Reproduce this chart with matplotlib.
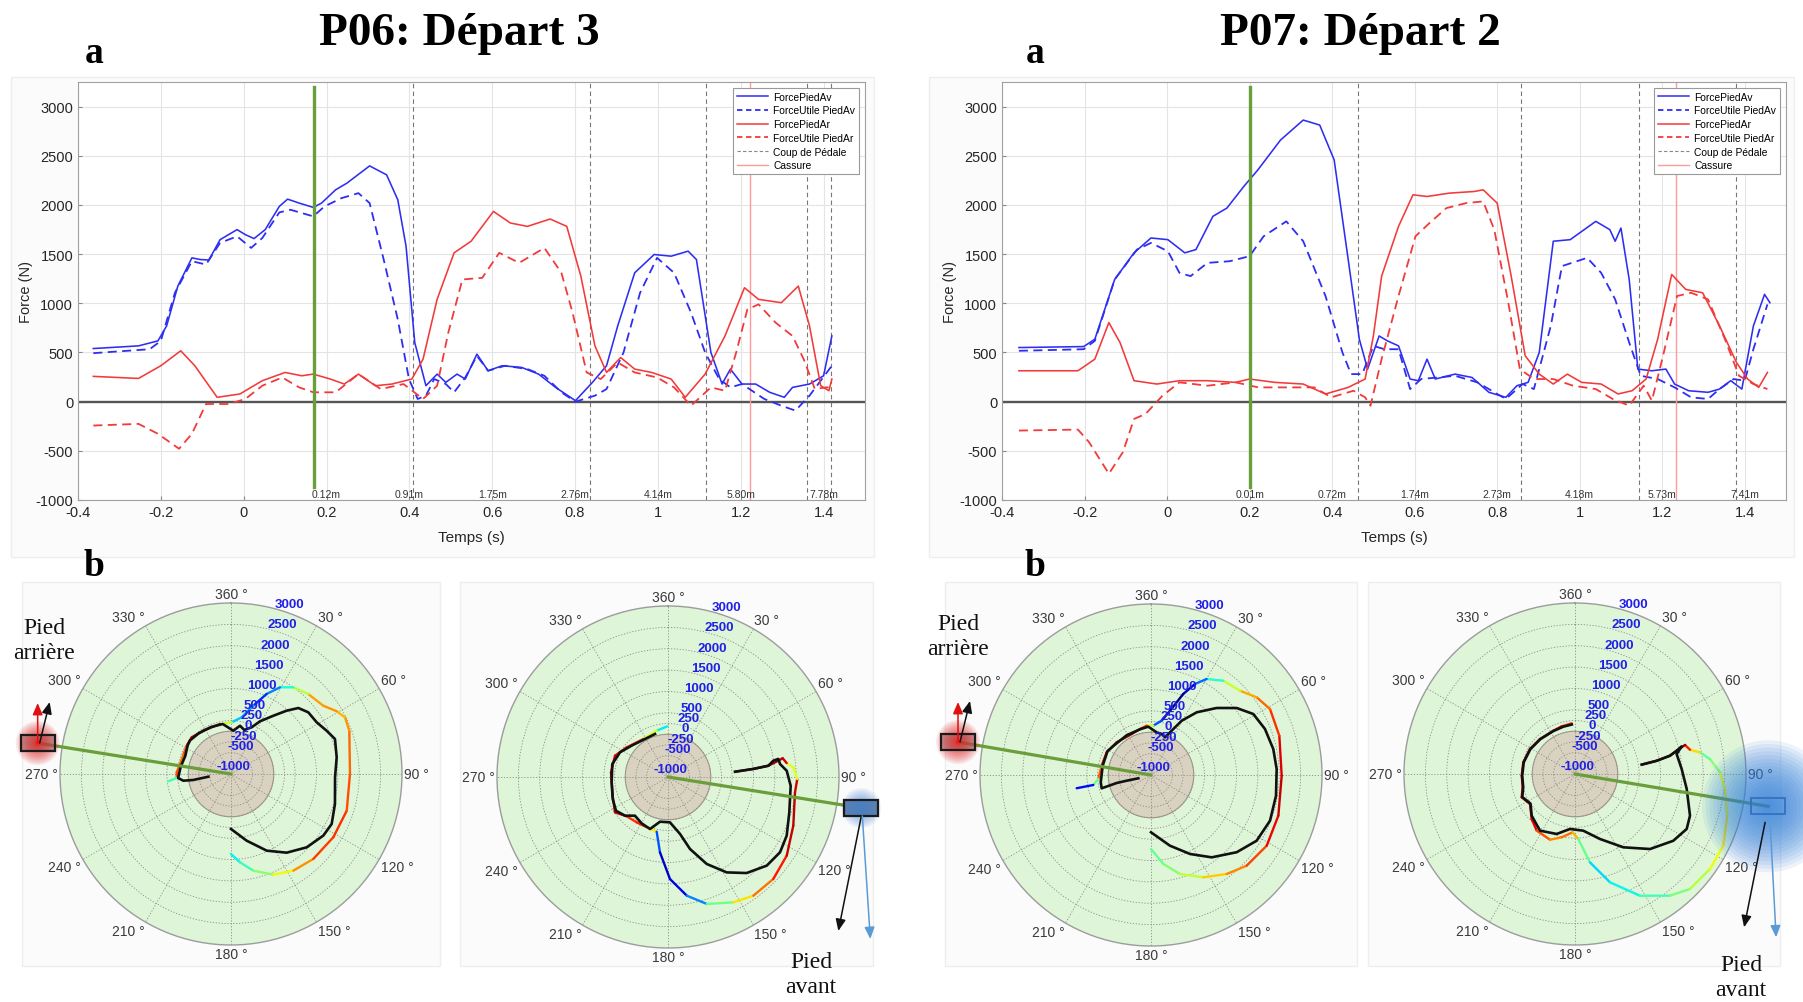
import numpy as np
import matplotlib
matplotlib.use("Agg")
import matplotlib.pyplot as plt
from matplotlib.collections import LineCollection
from matplotlib.patches import Rectangle, Circle
from matplotlib.lines import Line2D

plt.rcParams['font.family'] = ['Liberation Sans', 'DejaVu Sans']
plt.rcParams['axes.unicode_minus'] = False

W, H = 1803, 1003

# ======================= DATA =======================
titles = ["P06: Départ 3", "P07: Départ 2"]
series_names = ["ForcePiedAv", "ForceUtile PiedAv", "ForcePiedAr", "ForceUtile PiedAr",
                "Coup de Pédale", "Cassure"]
x_ticks = [-0.4, -0.2, 0, 0.2, 0.4, 0.6, 0.8, 1, 1.2, 1.4]
x_tick_labels = ["-0.4", "-0.2", "0", "0.2", "0.4", "0.6", "0.8", "1", "1.2", "1.4"]
y_ticks = [-1000, -500, 0, 500, 1000, 1500, 2000, 2500, 3000]

# ---- P06 ----
p06_av_t = [-0.363, -0.254, -0.207, -0.186, -0.159, -0.125, -0.105, -0.084, -0.057, -0.016, 0.004, 0.025,
            0.052, 0.086, 0.106, 0.134, 0.168, 0.188, 0.222, 0.249, 0.304, 0.345, 0.372, 0.392, 0.413,
            0.440, 0.467, 0.488, 0.515, 0.535, 0.563, 0.590, 0.624, 0.671, 0.712, 0.753, 0.801, 0.842,
            0.876, 0.903, 0.944, 0.991, 1.032, 1.073, 1.093, 1.128, 1.155, 1.175, 1.203, 1.236, 1.270,
            1.305, 1.325, 1.366, 1.400, 1.420]
p06_av_f = [540, 567, 618, 770, 1175, 1462, 1445, 1440, 1647, 1749, 1698, 1658, 1749, 1985, 2059, 2019,
            1975, 2019, 2154, 2221, 2397, 2306, 2053, 1580, 601, 162, 280, 196, 280, 230, 483, 314, 365,
            348, 280, 145, 10, 196, 365, 770, 1310, 1496, 1479, 1530, 1445, 500, 179, 331, 179, 179, 95,
            44, 145, 179, 263, 668]
p06_avu_t = [-0.363, -0.227, -0.200, -0.166, -0.125, -0.091, -0.057, -0.016, 0.018, 0.045, 0.086, 0.113,
             0.140, 0.168, 0.195, 0.236, 0.277, 0.304, 0.338, 0.372, 0.399, 0.420, 0.440, 0.460, 0.488,
             0.508, 0.535, 0.563, 0.590, 0.631, 0.685, 0.726, 0.767, 0.801, 0.848, 0.876, 0.917, 0.957,
             0.998, 1.039, 1.080, 1.114, 1.148, 1.175, 1.203, 1.257, 1.298, 1.332, 1.366, 1.420]
p06_avu_f = [493, 533, 618, 1107, 1428, 1394, 1614, 1681, 1563, 1664, 1924, 1951, 1918, 1884, 1985, 2069,
             2120, 2019, 1445, 837, 230, 27, 61, 230, 179, 95, 246, 466, 314, 365, 331, 263, 95, 0, 61,
             128, 500, 1107, 1462, 1310, 905, 500, 230, 145, 179, 27, -41, -91, 61, 365]
p06_ar_t = [-0.363, -0.254, -0.200, -0.152, -0.118, -0.064, -0.009, 0.045, 0.100, 0.140, 0.168, 0.209,
            0.243, 0.277, 0.318, 0.358, 0.406, 0.433, 0.467, 0.508, 0.549, 0.603, 0.644, 0.685, 0.740,
            0.780, 0.814, 0.848, 0.876, 0.910, 0.944, 0.985, 1.032, 1.066, 1.114, 1.162, 1.209, 1.243,
            1.298, 1.339, 1.366, 1.393, 1.413, 1.420]
p06_ar_f = [257, 236, 365, 517, 365, 44, 78, 213, 297, 263, 280, 230, 179, 280, 162, 179, 230, 432, 1040,
            1513, 1631, 1934, 1816, 1782, 1857, 1782, 1276, 567, 297, 449, 331, 297, 230, 44, 280, 668,
            1158, 1040, 1006, 1175, 770, 162, 111, 230]
p06_aru_t = [-0.363, -0.254, -0.207, -0.156, -0.125, -0.091, -0.036, 0.004, 0.045, 0.093, 0.134, 0.168,
             0.222, 0.277, 0.331, 0.386, 0.433, 0.467, 0.494, 0.528, 0.576, 0.617, 0.665, 0.726, 0.767,
             0.794, 0.828, 0.862, 0.903, 0.944, 0.998, 1.039, 1.080, 1.128, 1.162, 1.189, 1.216, 1.243,
             1.284, 1.325, 1.352, 1.379, 1.406, 1.420]
p06_aru_f = [-243, -226, -327, -479, -327, -24, -24, 27, 162, 246, 145, 95, 95, 280, 128, 179, 27, 162,
             702, 1242, 1259, 1513, 1411, 1563, 1310, 905, 297, 230, 398, 297, 246, 145, -41, 145, 111,
             500, 939, 989, 804, 668, 432, 128, 145, 145]
p06_stroke_t = [0.409, 0.835, 1.117, 1.360, 1.418]
p06_break_t = [1.223]
p06_start_t = [0.170]
p06_dist = ["0.12m", "0.91m", "1.75m", "2.76m", "4.14m", "5.80m", "7.78m"]

# ---- P07 ----
p07_av_t = [-0.359, -0.202, -0.175, -0.127, -0.080, -0.039, 0.002, 0.043, 0.070, 0.111, 0.145, 0.186,
            0.220, 0.275, 0.330, 0.370, 0.405, 0.439, 0.466, 0.486, 0.514, 0.534, 0.561, 0.589, 0.609,
            0.630, 0.650, 0.698, 0.739, 0.780, 0.821, 0.848, 0.875, 0.902, 0.936, 0.977, 1.039, 1.073,
            1.086, 1.100, 1.120, 1.141, 1.175, 1.209, 1.230, 1.264, 1.311, 1.339, 1.366, 1.393, 1.421,
            1.448, 1.461]
p07_av_f = [550, 560, 635, 1242, 1513, 1664, 1647, 1513, 1546, 1884, 1968, 2188, 2356, 2660, 2863, 2812,
            2458, 1445, 635, 331, 668, 618, 567, 230, 213, 432, 230, 280, 246, 95, 44, 162, 196, 500,
            1631, 1647, 1833, 1749, 1631, 1765, 1242, 331, 314, 331, 179, 111, 95, 128, 213, 128, 770,
            1091, 1006]
p07_avu_t = [-0.359, -0.202, -0.175, -0.127, -0.073, -0.039, 0.002, 0.030, 0.057, 0.098, 0.152, 0.200,
             0.234, 0.289, 0.330, 0.384, 0.425, 0.446, 0.473, 0.500, 0.527, 0.561, 0.589, 0.616, 0.698,
             0.752, 0.821, 0.862, 0.889, 0.930, 0.957, 1.018, 1.052, 1.086, 1.120, 1.148, 1.189, 1.230,
             1.270, 1.311, 1.339, 1.373, 1.400, 1.421, 1.455]
p07_avu_f = [517, 533, 618, 1242, 1546, 1614, 1529, 1310, 1276, 1411, 1428, 1479, 1681, 1833, 1631, 1074,
             500, 280, 280, 567, 533, 533, 128, 230, 263, 196, 27, 179, 128, 770, 1378, 1462, 1310, 1040,
             601, 263, 230, 145, 44, 27, 128, 230, 213, 533, 989]
p07_ar_t = [-0.359, -0.216, -0.175, -0.141, -0.114, -0.080, -0.025, 0.030, 0.098, 0.166, 0.200, 0.261,
            0.330, 0.384, 0.439, 0.480, 0.500, 0.520, 0.561, 0.596, 0.630, 0.684, 0.745, 0.766, 0.800,
            0.834, 0.868, 0.902, 0.936, 0.970, 1.005, 1.052, 1.093, 1.127, 1.161, 1.189, 1.223, 1.257,
            1.298, 1.339, 1.380, 1.407, 1.434, 1.455]
p07_ar_f = [314, 314, 432, 804, 601, 213, 179, 213, 213, 196, 230, 196, 179, 78, 145, 230, 668, 1276, 1782,
            2103, 2086, 2120, 2137, 2154, 2019, 1276, 466, 280, 179, 280, 196, 179, 78, 111, 230, 635,
            1293, 1141, 1107, 770, 398, 230, 145, 297]
p07_aru_t = [-0.359, -0.216, -0.189, -0.141, -0.107, -0.080, -0.052, -0.011, 0.030, 0.098, 0.166, 0.221,
             0.289, 0.357, 0.398, 0.452, 0.480, 0.493, 0.520, 0.561, 0.602, 0.636, 0.677, 0.725, 0.766,
             0.793, 0.827, 0.855, 0.889, 0.936, 0.984, 1.039, 1.080, 1.120, 1.155, 1.175, 1.202, 1.236,
             1.270, 1.311, 1.352, 1.386, 1.421, 1.455]
p07_aru_f = [-294, -284, -412, -733, -513, -176, -125, 61, 196, 162, 196, 145, 145, 145, 44, 111, 44, -41,
             432, 1074, 1681, 1816, 1968, 2019, 2036, 1749, 1006, 331, 230, 230, 162, 128, 27, -41, 162,
             10, 466, 1074, 1107, 1040, 635, 263, 179, 128]
p07_stroke_t = [0.463, 0.857, 1.144, 1.380]
p07_break_t = [1.234]
p07_start_t = [0.200]
p07_dist = ["0.01m", "0.72m", "1.74m", "2.73m", "4.18m", "5.73m", "7.41m"]

dist_label_t = [0.2, 0.4, 0.6, 0.8, 1.0, 1.2, 1.4]
start_line_range = [-870, 3200]

# ---- polar plots (crank angle in degrees, force in N) ----
polar_ring_values = [-500, -250, 0, 250, 500, 1000, 1500, 2000, 2500]
polar_label_values = [-1000, -500, -250, 0, 250, 500, 1000, 1500, 2000, 2500, 3000]
angle_ticks = [0, 30, 60, 90, 120, 150, 180, 210, 240, 270, 300, 330]
angle_labels = ["360 °", "30 °", "60 °", "90 °", "120 °", "150 °", "180 °", "210 °", "240 °",
                "270 °", "300 °", "330 °"]

# P06 rear foot
pol1_tot_th = [180, 174.2, 167, 157.2, 147.2, 135.9, 121.7, 107.6, 90, 69.9, 63.6, 59.3, 53.5, 44, 35.7,
               29.5, 24, 18.1, 10.7, 0.8, 347.6, 327.4, 313, 302.6, 291.7, 281, 271.8, 265.8, 263.4]
pol1_tot_f = [871, 1077, 1320, 1554, 1690, 1767, 1814, 1840, 1783, 1947, 1978, 1875, 1685, 1601, 1498,
              1330, 1049, 682, 350, 209, 198, 202, 258, 230, 200, 216, 270, 275, 476]
pol1_use_th = [180, 166.8, 155, 144.7, 134.1, 123.7, 116.4, 106.1, 91.8, 81, 71.4, 65.7, 58.9, 51.4, 45.6,
               41.3, 36, 28.8, 23.9, 16.8, 10.6, 3, 350.6, 336.8, 321.6, 309.3, 303.5, 291.7, 277.9,
               265.7, 262, 261, 263.2]
pol1_use_f = [286, 602, 979, 1255, 1465, 1596, 1629, 1531, 1435, 1503, 1566, 1456, 1341, 1313, 1206, 972,
              684, 406, 195, 76, 148, 15, 185, 195, 215, 240, 215, 150, 190, 240, 127, -107, -467]

# P06 front foot
pol2_tot_th = [359.2, 346.3, 327, 305.7, 291.9, 274.7, 251.3, 236.3, 226.4, 214.6, 202.9, 191.7, 186.1,
               178.9, 171, 163, 152.5, 144.3, 134.1, 123.5, 111.2, 96.9, 90.9, 85.6, 83.3, 80.7, 81.6,
               83.6, 84.6, 85.5]
pol2_tot_f = [186, 116, 60, 190, 336, 338, 366, 490, 333, 289, 277, 305, 771, 1386, 1810, 2106, 2305,
              2420, 2429, 2331, 2144, 1992, 2025, 1940, 1795, 1718, 1608, 1362, 1004, 572]
pol2_use_th = [85.5, 84.6, 83.6, 81.2, 80.7, 83.4, 87, 94.1, 106.2, 116.3, 123.9, 131.9, 140.7, 148.4,
               156, 163, 168.1, 177.5, 190.1, 199.1, 209.6, 220.5, 228, 237, 248.3, 264.6, 283.1, 297.2,
               310.8, 328.8, 343.2]
pol2_use_f = [572, 1004, 1362, 1493, 1615, 1638, 1781, 1877, 1955, 2097, 2157, 2104, 1903, 1620, 1227,
              761, 361, 62, 62, 287, 247, 190, 352, 450, 392, 324, 338, 263, 123, 39, 51]

# P07 rear foot
pol3_tot_th = [180, 172.1, 163.7, 152.9, 142.6, 133.5, 121.4, 107.7, 90.3, 73, 61, 53.7, 46.6, 37.5, 30.1,
               25.8, 21.7, 16.5, 11.1, 2.7, 355, 346.6, 334.8, 313.6, 297.1, 280.7, 265.7, 260.2, 259.9]
pol3_tot_f = [731, 1101, 1414, 1688, 1915, 2083, 2172, 2127, 2057, 2139, 2183, 2069, 1868, 1779, 1596,
              1365, 1040, 569, 296, 155, 158, 106, 60, 109, 165, 174, 237, 369, 766]
pol3_use_th = [180, 165, 153.7, 143.6, 132, 121.9, 111, 99.4, 87.3, 78, 68, 59.2, 52, 44.4, 36.1, 29.5,
               25, 20.4, 14.6, 7.6, 356.8, 346.6, 328.7, 309.4, 298.8, 280.9, 261.7, 254.9, 256.9,
               256.8, 255.4]
pol3_use_f = [340, 712, 1061, 1393, 1699, 1910, 1982, 1964, 1943, 1924, 1875, 1786, 1545, 1194, 815, 460,
              144, -60, -8, 6, 132, 100, 90, 105, 160, 151, 188, 195, -177, -415, -694]

# P07 front foot
pol4_tot_th = [356.3, 344.4, 333.4, 315, 299, 282.8, 268.2, 255.7, 246.4, 236.3, 223.9, 214, 200.8, 191.9,
               182.3, 177.1, 170.4, 162.1, 151.9, 142, 135, 125.1, 115.8, 105.3, 95.7, 89.3, 83.7, 80.2,
               78.1, 75.2, 77.1, 79.1, 80.8, 82]
pol4_tot_f = [188, 158, 132, 158, 205, 240, 247, 263, 361, 265, 462, 600, 644, 513, 366, 523, 1096, 1662,
              2228, 2611, 2803, 2862, 2852, 2693, 2525, 2392, 2176, 1968, 1749, 1662, 1440, 1262, 937, 575]
pol4_use_th = [82, 80.8, 79.1, 77.1, 75.5, 78.9, 87.3, 97.6, 109.9, 116.2, 124.2, 135, 146.6, 159, 171.7,
               185.2, 197, 211.7, 226.1, 236.3, 246.4, 255.7, 268.2, 282.8, 299, 315, 333.4, 346.2, 356.3]
pol4_use_f = [575, 937, 1262, 1440, 1578, 1423, 1498, 1636, 1861, 1912, 1779, 1482, 1054, 628, 340, 291,
              467, 558, 406, 250, 345, 250, 235, 230, 195, 150, 125, 140, 160]

crank_angle = [279.1, 99.1, 279.7, 99.5]
crank_reach = 3580

# ======================= STYLE / LAYOUT =======================
BLUE = '#2e2ef2'
RED = '#f23a3a'
GREEN = '#6a9e3a'
fig = plt.figure(figsize=(W / 100, H / 100), dpi=100)
fig.patch.set_facecolor('white')


def rect_px(l, t, r, b):
    return [l / W, 1 - b / H, (r - l) / W, (b - t) / H]


# background panels
ax_bg = fig.add_axes([0, 0, 1, 1], zorder=-5)
ax_bg.set_xlim(0, W)
ax_bg.set_ylim(H, 0)
ax_bg.axis('off')
for (l, t, r, b) in [(11, 78, 874, 558), (929, 78, 1794, 558), (22, 583, 440, 967),
                     (460, 583, 873, 967), (945, 583, 1357, 967), (1368, 583, 1780, 967)]:
    ax_bg.add_patch(Rectangle((l, t), r - l, b - t, facecolor='#fbfbfb', edgecolor='#eeeeee', lw=1))


def line_chart(rect, av, avu, ar, aru, stroke_t, break_t, start_t, dist):
    ax = fig.add_axes(rect)
    ax.set_xlim(-0.4, 1.5)
    ax.set_ylim(-1000, 3250)
    ax.grid(True, color='#e4e4e4', lw=0.8)
    ax.set_axisbelow(True)
    ax.axhline(0, color='#555555', lw=1.7, zorder=2)
    for t in stroke_t:
        ax.axvline(t, color='#777777', lw=0.8, dashes=(4, 3), zorder=2)
    for t in break_t:
        ax.axvline(t, color='#ff9a9a', lw=1.0, zorder=2)
    for t in start_t:
        ax.plot([t, t], start_line_range, color=GREEN, lw=2.4, zorder=5)
    kw = dict(solid_joinstyle='round', dash_joinstyle='round', zorder=4)
    ax.plot(av[0], av[1], color=BLUE, lw=1.15, **kw)
    ax.plot(avu[0], avu[1], color=BLUE, lw=1.3, dashes=(5, 3), **kw)
    ax.plot(ar[0], ar[1], color=RED, lw=1.15, **kw)
    ax.plot(aru[0], aru[1], color=RED, lw=1.3, dashes=(5, 3), **kw)
    for t, s in zip(dist_label_t, dist):
        ax.text(t, -940, s, ha='center', va='center', fontsize=7.5, color='#333333', zorder=6)
    ax.set_xticks(x_ticks)
    ax.set_xticklabels(x_tick_labels)
    ax.set_yticks(y_ticks)
    ax.tick_params(labelsize=10.5, labelcolor='#262626', direction='in', length=3, color='#888888')
    for s in ax.spines.values():
        s.set_color('#a0a0a0')
        s.set_linewidth(0.8)
    ax.set_xlabel('Temps (s)', fontsize=11, color='#262626', labelpad=8)
    ax.set_ylabel('Force (N)', fontsize=10.5, color='#262626', labelpad=2)
    handles = [Line2D([], [], color=BLUE, lw=1.1),
               Line2D([], [], color=BLUE, lw=1.3, dashes=(3, 2)),
               Line2D([], [], color=RED, lw=1.1),
               Line2D([], [], color=RED, lw=1.3, dashes=(3, 2)),
               Line2D([], [], color='#888888', lw=0.8, dashes=(3, 2)),
               Line2D([], [], color='#ff9a9a', lw=1.0)]
    leg = ax.legend(handles, series_names, loc='upper right', fontsize=7.4, fancybox=False,
                    edgecolor='#9a9a9a', handlelength=3.0, borderaxespad=0.55, labelspacing=0.36,
                    borderpad=0.4, handletextpad=0.5, framealpha=1)
    leg.get_frame().set_linewidth(0.8)
    leg.set_zorder(10)
    return ax


line_chart(rect_px(78, 83, 865, 501), (p06_av_t, p06_av_f), (p06_avu_t, p06_avu_f),
           (p06_ar_t, p06_ar_f), (p06_aru_t, p06_aru_f), p06_stroke_t, p06_break_t, p06_start_t, p06_dist)
line_chart(rect_px(1002, 83, 1786, 501), (p07_av_t, p07_av_f), (p07_avu_t, p07_avu_f),
           (p07_ar_t, p07_ar_f), (p07_aru_t, p07_aru_f), p07_stroke_t, p07_break_t, p07_start_t, p07_dist)

jet = plt.get_cmap('jet')


def polar_plot(center, tot_th, tot_f, use_th, use_f, crank):
    cx, cy = center
    R = 171
    ax = fig.add_axes(rect_px(cx - R, cy - R, cx + R, cy + R), projection='polar')
    ax.set_facecolor('#def5d8')
    ax.set_theta_zero_location('N')
    ax.set_theta_direction(-1)
    circ = np.linspace(0, 2 * np.pi, 361)
    ax.fill_between(circ, -1000, 0, color='#d9d2c0', lw=0, zorder=1)
    ax.plot(circ, np.zeros_like(circ), color='#a59e8e', lw=0.8, zorder=1.2)

    tc = np.deg2rad(np.asarray(tot_th, float))
    fc = np.asarray(tot_f, float)
    tb = np.deg2rad(np.asarray(use_th, float))
    fb = np.asarray(use_f, float)
    uc = np.unwrap(tc)
    ub = np.unwrap(tb)
    order = np.argsort(ub)
    fb_at_c = np.interp(uc, ub[order], fb[order])
    ratio = np.clip(fb_at_c / np.maximum(fc, 1), 0, 1)
    segs = [[(tc[i], fc[i]), (tc[i + 1], fc[i + 1])] for i in range(len(tc) - 1)]
    cols = [jet(0.5 * (ratio[i] + ratio[i + 1])) for i in range(len(tc) - 1)]
    lc = LineCollection(segs, colors=cols, linewidths=1.7, zorder=3, capstyle='round')
    ax.add_collection(lc)
    ax.plot(tb, fb, color='#111111', lw=1.9, zorder=4, solid_joinstyle='round')

    th_c = np.deg2rad(crank)
    ax.plot([th_c, th_c], [-1000, crank_reach], color=GREEN, lw=2.3, zorder=6, clip_on=False)

    for v in polar_label_values:
        ax.text(np.deg2rad(19), v + 200, str(v), ha='center', va='center', fontsize=9.5,
                fontweight='bold', color='#2020e6', zorder=7)

    ax.set_ylim(-1000, 3000)
    ax.set_yticks(polar_ring_values)
    ax.set_yticklabels([])
    ax.set_xticks(np.deg2rad(angle_ticks))
    ax.set_xticklabels([])
    ax.grid(True, color='#8c8c8c', linestyle=(0, (1.5, 2.0)), linewidth=0.6)
    ax.tick_params(axis='y', length=0)
    ax.tick_params(axis='x', length=0)
    ax.spines['polar'].set_color('#9c9c9c')
    ax.spines['polar'].set_linewidth(1.0)
    # angle labels, anchored by the edge facing the circle
    r_lab = 3000 + 4 * 4000 / (2 * R)
    for a, s in zip(angle_ticks, angle_labels):
        sa, ca = np.sin(np.deg2rad(a)), np.cos(np.deg2rad(a))
        ha = 'left' if sa > 0.3 else ('right' if sa < -0.3 else 'center')
        va = 'bottom' if ca > 0.3 else ('top' if ca < -0.3 else 'center')
        ax.text(np.deg2rad(a), r_lab, s, ha=ha, va=va, fontsize=10, color='#3a3a3a', clip_on=False)
    p = ax.transData.transform((th_c, crank_reach))
    return p[0], H - p[1]


polar_centers = [(231, 775), (668, 778), (1151, 776), (1575, 775)]
polar_data = [(pol1_tot_th, pol1_tot_f, pol1_use_th, pol1_use_f),
              (pol2_tot_th, pol2_tot_f, pol2_use_th, pol2_use_f),
              (pol3_tot_th, pol3_tot_f, pol3_use_th, pol3_use_f),
              (pol4_tot_th, pol4_tot_f, pol4_use_th, pol4_use_f)]
ends = []
for c, d, a in zip(polar_centers, polar_data, crank_angle):
    ends.append(polar_plot(c, *d, a))

# ======================= OVERLAY (pedals, arrows, text) =======================
ov = fig.add_axes([0, 0, 1, 1], zorder=10)
ov.set_xlim(0, W)
ov.set_ylim(H, 0)
ov.axis('off')
ov.patch.set_alpha(0)


def glow(x, y, radius, color, n=14, a=0.09):
    for i in range(n):
        ov.add_patch(Circle((x, y), radius * (1 - i / n), facecolor=color, edgecolor='none', alpha=a))


def arrow(x0, y0, x1, y1, color):
    ov.annotate('', xy=(x1, y1), xytext=(x0, y0), annotation_clip=False,
                arrowprops=dict(arrowstyle='-|>,head_length=0.7,head_width=0.3', color=color, lw=1.1,
                                shrinkA=0, shrinkB=0))


bw, bh = 34, 16
pedal_kind = ['rear', 'front', 'rear', 'front_big']
for (x, y), kind in zip(ends, pedal_kind):
    if kind == 'rear':
        ov.add_patch(Rectangle((x - bw / 2, y - bh / 2), bw, bh, facecolor='#8a8a8a', edgecolor='none',
                               alpha=0.6))
        glow(x, y, 22, '#e01818')
        ov.add_patch(Circle((x, y), 3, facecolor='#ff2020', edgecolor='none', alpha=0.8))
        ov.add_patch(Rectangle((x - bw / 2, y - bh / 2), bw, bh, facecolor='none', edgecolor='#1a1a1a',
                               lw=1.6))
        arrow(x, y, x, y - 40, '#e01010')
        arrow(x + 2, y, x + 12, y - 41, '#111111')
    elif kind == 'front':
        ov.add_patch(Rectangle((x - bw / 2, y - bh / 2), bw, bh, facecolor='#6a7fa5', edgecolor='none'))
        glow(x, y, 20, '#3c7fd6', a=0.07)
        ov.add_patch(Rectangle((x - bw / 2, y - bh / 2), bw, bh, facecolor='none', edgecolor='#1a1a1a',
                               lw=1.6))
        arrow(x, y + bh / 2, x - 23, y + 123, '#111111')
        arrow(x + 1, y + bh / 2, x + 9, y + 131, '#5b9bd5')
    else:
        ov.add_patch(Rectangle((x - bw / 2, y - bh / 2), bw, bh, facecolor='none', edgecolor='#445577',
                               lw=1.2))
        glow(x, y, 66, '#2f7fd8', n=18, a=0.09)
        arrow(x - 3, y + 16, x - 24, y + 121, '#111111')
        arrow(x + 2, y + 16, x + 8, y + 131, '#5b9bd5')

serif = ['Liberation Serif', 'DejaVu Serif']
ov.text(44, 641, "Pied\narrière", ha='center', va='center', fontsize=17, family=serif, color='#111111')
ov.text(958, 637, "Pied\narrière", ha='center', va='center', fontsize=17, family=serif, color='#111111')
ov.text(811, 975, "Pied\navant", ha='center', va='center', fontsize=17, family=serif, color='#111111')
ov.text(1741, 978, "Pied\navant", ha='center', va='center', fontsize=17, family=serif, color='#111111')

ov.text(459, 34, titles[0], ha='center', va='center', fontsize=34, fontweight='bold', family=serif)
ov.text(1360, 34, titles[1], ha='center', va='center', fontsize=34, fontweight='bold', family=serif)
for x in (94, 1035):
    ov.text(x, 53, "a", ha='center', va='center', fontsize=27, fontweight='bold', family=serif)
    ov.text(x, 566, "b", ha='center', va='center', fontsize=27, fontweight='bold', family=serif)

fig.savefig('out.png', dpi=100, facecolor='white')
